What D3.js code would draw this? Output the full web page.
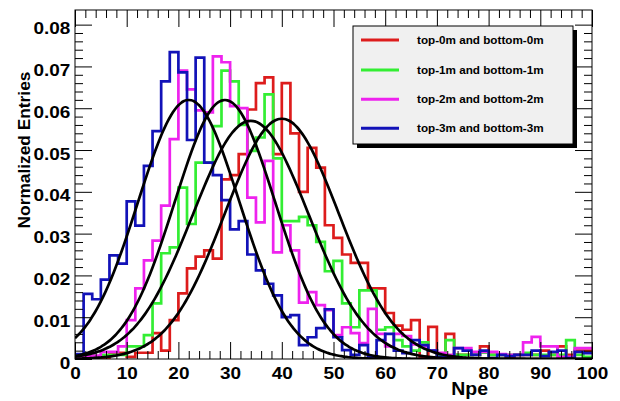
<!DOCTYPE html>
<meta charset="utf-8">
<script src="https://d3js.org/d3.v7.min.js"></script>
<style>
  body { margin: 0; background: #fff; }
  text { font-family: "Liberation Sans", Arial, sans-serif; font-weight: bold; fill: #000; }
</style>
<div id="my_dataviz"></div>
<script>

// binning of the histograms: 60 bins between 0 and 100 Npe
var nBins = 60, xLo = 0, xHi = 100;

var seriesNames = ["top-0m and bottom-0m", "top-1m and bottom-1m",
                   "top-2m and bottom-2m", "top-3m and bottom-3m"];
var seriesColors = ["#dd1c1c", "#33ee33", "#ee22ee", "#1212b8"];

// normalized entries per bin
var red = [0, 0, 0, 0, 0.0015, 0.0015, 0.0005, 0.0015, 0.0015, 0.0062,
           0.002, 0.0093, 0.0157, 0.0217, 0.0245, 0.026, 0.024, 0.043, 0.044, 0.049,
           0.0597, 0.066, 0.0674, 0.049, 0.066, 0.054, 0.040, 0.0505, 0.0458, 0.032,
           0.029, 0.025, 0.023, 0.023, 0.0169, 0.0169, 0.011, 0.008, 0.007, 0.0093,
           0.0005, 0.0077, 0.0005, 0.006, 0.001, 0.001, 0.001, 0.003, 0.001, 0.001,
           0.0005, 0.001, 0.001, 0.001, 0.002, 0.001, 0.003, 0.001, 0.002, 0.002];
var green = [0, 0.0005, 0.0005, 0.001, 0.001, 0.001, 0.003, 0.003, 0.0057, 0.0133,
             0.0253, 0.0267, 0.041, 0.0323, 0.047, 0.047, 0.0557, 0.069, 0.0664, 0.056,
             0.0498, 0.053, 0.0633, 0.048, 0.033, 0.033, 0.034, 0.032, 0.028, 0.021,
             0.0235, 0.0133, 0.0076, 0.0164, 0.0164, 0.007, 0.0076, 0.0045, 0.003, 0.002,
             0.004, 0.002, 0.001, 0.0045, 0.001, 0.001, 0.001, 0.0015, 0.001, 0.001,
             0.001, 0.001, 0.0015, 0.001, 0.001, 0.001, 0.001, 0.0045, 0.001, 0.0005];
var magenta = [0.0005, 0.0008, 0.0008, 0.0017, 0.0017, 0.003, 0.0093, 0.0169, 0.0236, 0.0283,
               0.0367, 0.0526, 0.069, 0.0645, 0.0595, 0.059, 0.0724, 0.071, 0.0605, 0.060,
               0.0386, 0.0327, 0.0474, 0.0255, 0.032, 0.026, 0.0135, 0.016, 0.0129, 0.0117,
               0.0057, 0.0076, 0.0062, 0.0038, 0.012, 0.006, 0.003, 0.006, 0.0055, 0.0035,
               0.003, 0.002, 0.0015, 0.001, 0.0026, 0.0026, 0.0017, 0.0017, 0.0017, 0.0012,
               0.001, 0.001, 0.004, 0.0053, 0.003, 0.003, 0.0005, 0.0005, 0.0026, 0.0026];
var blue = [0.0012, 0.0156, 0.0143, 0.019, 0.0248, 0.0228, 0.0377, 0.0319, 0.0462, 0.0545,
            0.0664, 0.0734, 0.0686, 0.0524, 0.0721, 0.047, 0.044, 0.038, 0.031, 0.033,
            0.025, 0.0212, 0.018, 0.0152, 0.010, 0.0105, 0.0033, 0.0052, 0.0074, 0.0119,
            0.0052, 0.0021, 0.001, 0.0033, 0.0005, 0.0045, 0.006, 0.002, 0.0014, 0.0045,
            0.0033, 0.002, 0.0005, 0.0005, 0.0026, 0.002, 0.001, 0.002, 0.0002, 0.001,
            0.0007, 0.001, 0.001, 0.002, 0.0007, 0.0017, 0.002, 0.0002, 0.0017, 0.0014];

// gaussian fit parameters (constant, mean, sigma) in the same order
var fitConst = [0.0575, 0.057, 0.062, 0.062];
var fitMean  = [40, 34, 29, 22];
var fitSigma = [11, 11.2, 9.7, 9.8];

var xTicks = [0, 10, 20, 30, 40, 50, 60, 70, 80, 90, 100];
var yTicks = [0, 0.01, 0.02, 0.03, 0.04, 0.05, 0.06, 0.07, 0.08];

var allSeries = [red, green, magenta, blue];

// plot frame
var W = 620, H = 401;
var frame = {left: 75, right: 592, top: 10, bottom: 359};

var svg = d3.select("#my_dataviz")
  .append("svg")
    .attr("width", W)
    .attr("height", H);

svg.append("rect").attr("width", W).attr("height", H).attr("fill", "#fff");

var x = d3.scaleLinear().domain([xLo, xHi]).range([frame.left, frame.right]);
var y = d3.scaleLinear().domain([0, 0.0835]).range([frame.bottom, frame.top]);

svg.append("clipPath").attr("id", "plotclip")
  .append("rect")
    .attr("x", frame.left).attr("y", frame.top - 2)
    .attr("width", frame.right - frame.left)
    .attr("height", frame.bottom - frame.top + 2);

// histograms
var edges = d3.range(nBins + 1).map(i => xLo + i * (xHi - xLo) / nBins);
var stepLine = d3.line()
  .x(d => x(d[0]))
  .y(d => y(d[1]))
  .curve(d3.curveStepAfter);

var plot = svg.append("g").attr("clip-path", "url(#plotclip)");

allSeries.forEach(function(vals, i) {
  var pts = vals.map((v, k) => [edges[k], v]);
  pts.push([xHi, vals[vals.length - 1]]);
  plot.append("path")
    .attr("d", stepLine(pts))
    .attr("fill", "none")
    .attr("stroke", seriesColors[i])
    .attr("stroke-width", 2.7);
});

// fit curves
var fitLine = d3.line().x(d => x(d[0])).y(d => y(d[1])).curve(d3.curveBasis);
fitConst.forEach(function(c, i) {
  var pts = d3.range(0, 100.01, 0.5).map(function(v) {
    var z = (v - fitMean[i]) / fitSigma[i];
    return [v, c * Math.exp(-0.5 * z * z)];
  });
  plot.append("path")
    .attr("d", fitLine(pts))
    .attr("fill", "none")
    .attr("stroke", "#000")
    .attr("stroke-width", 2.7);
});

// axes, ROOT style: ticks inside on all four sides
var xMinor = d3.range(0, 101, 2).filter(v => v % 10 != 0);
var yMinor = d3.range(0, 41).map(i => i * 0.002).filter((v, i) => i % 5 != 0);
var fmtY = v => v == 0 ? "0" : d3.format(".2f")(v);

function drawAxis(axis, tx, ty) {
  var g = svg.append("g").attr("transform", "translate(" + tx + "," + ty + ")").call(axis);
  g.select(".domain").remove();
  g.selectAll("line").attr("stroke", "#000").attr("stroke-width", 1);
  return g;
}

var gx = drawAxis(d3.axisBottom(x).tickValues(xTicks).tickSize(-17).tickPadding(8), 0, frame.bottom);
drawAxis(d3.axisBottom(x).tickValues(xMinor).tickSize(-8).tickFormat(""), 0, frame.bottom);
drawAxis(d3.axisTop(x).tickValues(xTicks).tickSize(-17).tickFormat(""), 0, frame.top);
drawAxis(d3.axisTop(x).tickValues(xMinor).tickSize(-8).tickFormat(""), 0, frame.top);

var gy = drawAxis(d3.axisLeft(y).tickValues(yTicks).tickSize(-17).tickPadding(4).tickFormat(fmtY), frame.left, 0);
drawAxis(d3.axisLeft(y).tickValues(yMinor).tickSize(-8).tickFormat(""), frame.left, 0);
drawAxis(d3.axisRight(y).tickValues(yTicks).tickSize(-17).tickFormat(""), frame.right, 0);
drawAxis(d3.axisRight(y).tickValues(yMinor).tickSize(-8).tickFormat(""), frame.right, 0);

gx.selectAll("text")
  .attr("font-size", 16.5).attr("font-family", null).attr("fill", "#000")
  .attr("transform", "scale(1.15,1)");
gy.selectAll("text")
  .attr("font-size", 16.5).attr("font-family", null).attr("fill", "#000")
  .attr("dy", "0.55em")
  .attr("transform", "scale(1.15,1)");

svg.append("rect")
  .attr("x", frame.left).attr("y", frame.top)
  .attr("width", frame.right - frame.left)
  .attr("height", frame.bottom - frame.top)
  .attr("fill", "none").attr("stroke", "#000").attr("stroke-width", 1);

// axis titles
svg.append("text")
  .attr("transform", "translate(488,395) scale(1.08,1)")
  .attr("text-anchor", "end")
  .attr("font-size", 18)
  .text("Npe");

svg.append("text")
  .attr("transform", "translate(30,150) rotate(-90) scale(1.05,1)")
  .attr("text-anchor", "middle")
  .attr("font-size", 16.5)
  .text("Normalized Entries");

// legend with drop shadow
var leg = {x: 353, y: 26, w: 220, h: 118};
svg.append("rect")
  .attr("x", leg.x + 4).attr("y", leg.y + 4)
  .attr("width", leg.w).attr("height", leg.h)
  .attr("fill", "#000");
svg.append("rect")
  .attr("x", leg.x).attr("y", leg.y)
  .attr("width", leg.w).attr("height", leg.h)
  .attr("fill", "#f0f0f0").attr("stroke", "#000").attr("stroke-width", 1);

var legRows = [40, 70, 99.3, 128.3];
seriesNames.forEach(function(name, i) {
  svg.append("line")
    .attr("x1", 361).attr("x2", 399)
    .attr("y1", legRows[i]).attr("y2", legRows[i])
    .attr("stroke", seriesColors[i]).attr("stroke-width", 3);
  svg.append("text")
    .attr("x", 417).attr("y", legRows[i] + 4)
    .attr("font-size", 11.7)
    .attr("fill", "#111")
    .text(name);
});

</script>
